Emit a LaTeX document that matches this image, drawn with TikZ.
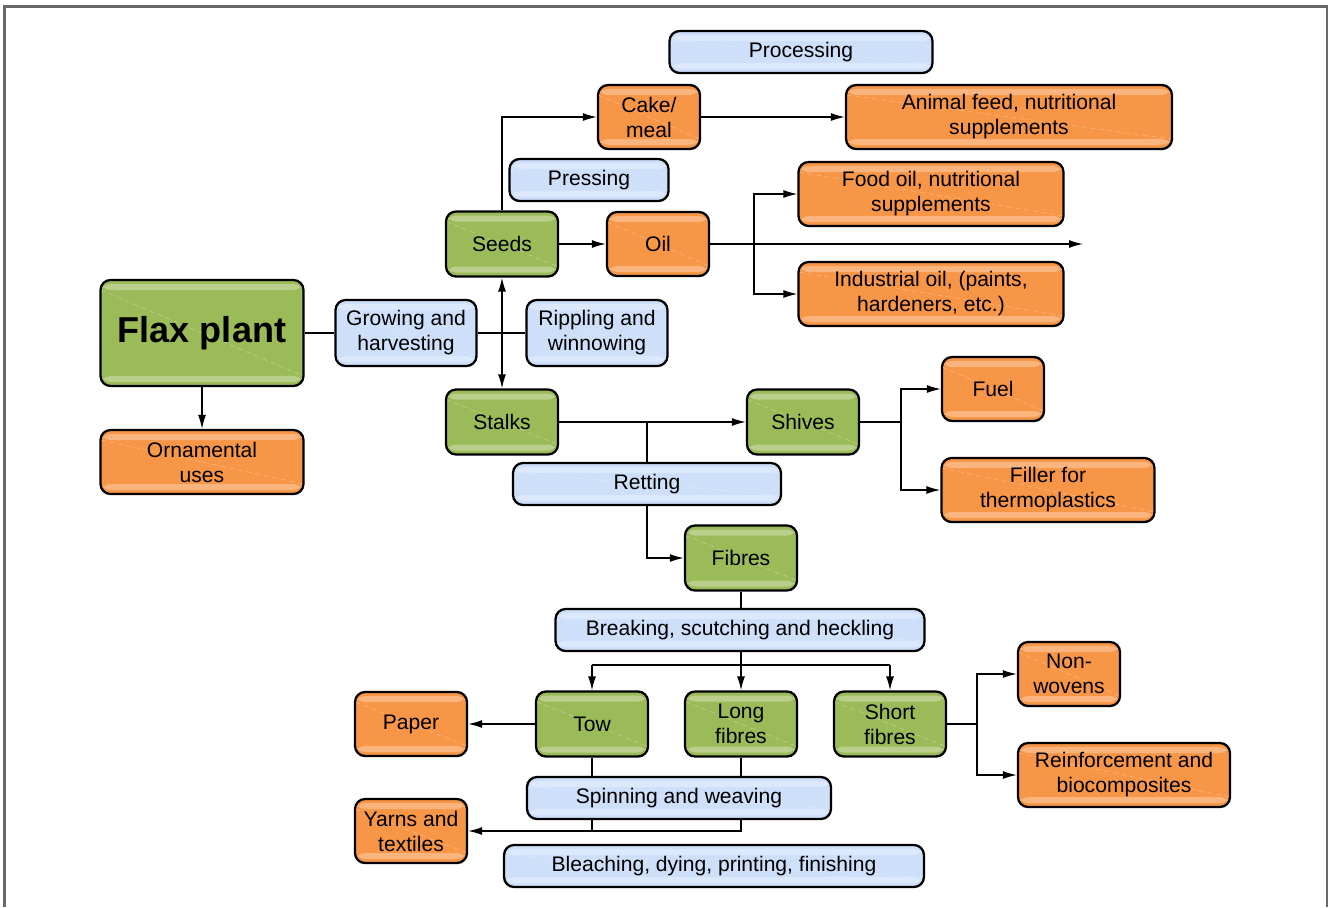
\documentclass[tikz,border=0pt]{standalone}
\usepackage{fontspec}
\setmainfont{Liberation Sans}
\usetikzlibrary{arrows.meta, positioning}
\definecolor{stemgreen}{RGB}{155, 187, 89}
\definecolor{yieldorange}{RGB}{247, 150, 70}
\definecolor{steplblue}{RGB}{206, 223, 250}
\definecolor{framegray}{RGB}{105, 105, 105}

\begin{document}
\begin{tikzpicture}[x=0.02cm, y=-0.02cm,
    box/.style={draw=black, line width=1.3pt, rounded corners=0.2cm, inner sep=1pt, align=center,
        font=\fontsize{12}{14.2}\selectfont,
        path picture={
            \fill[white, opacity=0.3] ([yshift=-0.08cm]path picture bounding box.north west) rectangle ([yshift=-0.2cm]path picture bounding box.north east);
            \fill[white, opacity=0.3] ([yshift=0.08cm]path picture bounding box.south west) rectangle ([yshift=0.2cm]path picture bounding box.south east);
            \draw[white, opacity=0.45, densely dashed, very thin] ([yshift=-0.2cm]path picture bounding box.north west) -- ([yshift=0.2cm]path picture bounding box.south east);
        }},
    stage/.style={box, fill=stemgreen, minimum width=2.24cm, minimum height=1.3cm},
    product/.style={box, fill=yieldorange, minimum height=1.28cm},
    process/.style={box, fill=steplblue, minimum height=0.84cm},
    line/.style={draw=black, line width=0.8pt},
    arr/.style={line, -{Latex[length=0.28cm, width=0.16cm]}},
    darr/.style={line, {Latex[length=0.28cm, width=0.16cm]}-{Latex[length=0.28cm, width=0.16cm]}}]
    \useasboundingbox (0,0) rectangle (1333,907);
    % frame, open at the bottom
    \draw[framegray, line width=1.2pt] (4.5,907) -- (4.5,6.5) -- (1327,6.5) -- (1327,907);

    % Seeds branch
    \node[process, minimum width=5.26cm] (proc) at (801,52) {Processing};
    \node[product, minimum width=2.04cm] (cake) at (649,117) {Cake/\\meal};
    \node[product, minimum width=6.52cm] (feed) at (1009,117) {Animal feed, nutritional\\supplements};
    \node[process, minimum width=3.18cm] (press) at (589,180) {Pressing};
    \node[product, minimum width=5.3cm] (food) at (931,194) {Food oil, nutritional\\supplements};
    \node[stage] (seeds) at (502,244) {Seeds};
    \node[product, minimum width=2.04cm] (oil) at (658,244) {Oil};
    \node[product, minimum width=5.3cm] (indus) at (931,294) {Industrial oil, (paints,\\hardeners, etc.)};

    % Plant
    \node[box, fill=stemgreen, minimum width=4.06cm, minimum height=2.12cm,
          font=\fontsize{20.5}{24}\selectfont\bfseries] (flax) at (202,333) {Flax plant};
    \node[process, minimum width=2.82cm, minimum height=1.32cm] (grow) at (406,333) {Growing and\\harvesting};
    \node[process, minimum width=2.82cm, minimum height=1.32cm] (ripple) at (597,333) {Rippling and\\winnowing};
    \node[product, minimum width=4.06cm] (orna) at (202,462) {Ornamental\\uses};

    % Stalks branch
    \node[stage] (stalks) at (502,422) {Stalks};
    \node[stage] (shives) at (803,422) {Shives};
    \node[product, minimum width=2.04cm] (fuel) at (993,389) {Fuel};
    \node[product, minimum width=4.26cm] (filler) at (1048,490) {Filler for\\thermoplastics};
    \node[process, minimum width=5.36cm] (ret) at (647,484) {Retting};
    \node[stage] (fibres) at (741,558) {Fibres};
    \node[process, minimum width=7.38cm] (brk) at (740,630) {Breaking, scutching and heckling};

    % Fibre products
    \node[product, minimum width=2.04cm] (nonwov) at (1069,674) {Non-\\wovens};
    \node[product, minimum width=2.24cm] (paper) at (411,724) {Paper};
    \node[stage] (tow) at (592,724) {Tow};
    \node[stage] (long) at (741,724) {Long\\fibres};
    \node[stage] (short) at (890,724) {Short\\fibres};
    \node[product, minimum width=4.24cm] (reinf) at (1124,775) {Reinforcement and\\biocomposites};
    \node[process, minimum width=6.08cm] (spin) at (679,798) {Spinning and weaving};
    \node[product, minimum width=2.24cm] (yarns) at (411,831) {Yarns and\\textiles};
    \node[process, minimum width=8.4cm] (bleach) at (714,866) {Bleaching, dying, printing, finishing};

    % junctions and free ends
    \coordinate (oilj) at (754,244);
    \coordinate (oilend) at (1083,244);
    \coordinate (shj) at (901,422);
    \coordinate (brj) at (741,665);
    \coordinate (sfj) at (977,724);

    % connectors
    \draw[line] (flax.east) -- (grow.west);
    \draw[line] (grow.east) -- (ripple.west);
    \draw[arr] (flax.south) -- (orna.north);
    \draw[darr] (seeds.south) -- (stalks.north);
    \draw[arr] (seeds.north) |- (cake.west);
    \draw[arr] (cake.east) -- (feed.west);
    \draw[arr] (seeds.east) -- (oil.west);
    \draw[arr] (oil.east) -- (oilend);
    \draw[arr] (oilj) |- (food.west);
    \draw[arr] (oilj) |- (indus.west);

    \draw[arr] (stalks.east) -- (shives.west);
    \draw[line] (stalks.east -| ret.north) -- (ret.north);
    \draw[arr] (ret.south) |- (fibres.west);
    \draw[line] (shives.east) -- (shj);
    \draw[arr] (shj) |- (fuel.west);
    \draw[arr] (shj) |- (filler.west);

    \draw[line] (fibres.south) -- (brk.north -| fibres.south);
    \draw[line] (brk.south -| brj) -- (brj);
    \draw[line] (brj -| tow.north) -- (brj -| short.north);
    \foreach \n in {tow, long, short}
        \draw[arr] (brj -| \n.north) -- (\n.north);
    \draw[arr] (tow.west) -- (paper.east);
    \draw[line] (short.east) -- (sfj);
    \draw[arr] (sfj) |- (nonwov.west);
    \draw[arr] (sfj) |- (reinf.west);

    \draw[line] (tow.south) -- (tow.south |- spin.north);
    \draw[line] (long.south) -- (long.south |- spin.north);
    \draw[line] (spin.south -| tow.south) -- (tow.south |- yarns.east);
    \draw[arr] (spin.south -| long.south) |- (yarns.east);
\end{tikzpicture}
\end{document}
